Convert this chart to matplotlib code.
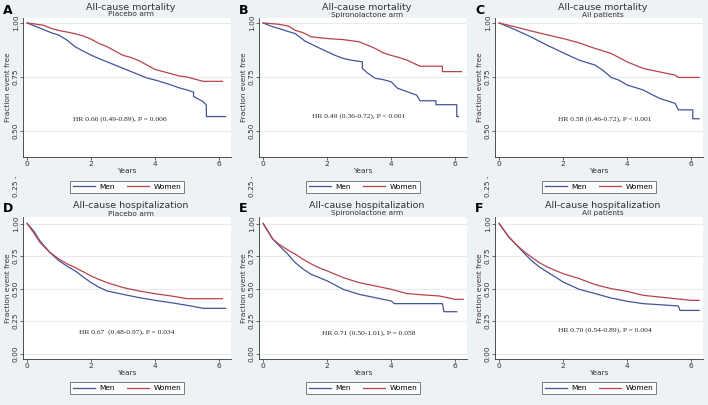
import matplotlib.pyplot as plt
from matplotlib.lines import Line2D

# ==============================
# Data
# ==============================

# A: all-cause mortality, placebo arm
a_men_t = [0, 0.25, 0.5, 0.75, 1, 1.25, 1.5, 1.75, 2, 2.25, 2.5, 2.75, 3, 3.25, 3.5, 3.75, 4, 4.25, 4.5, 4.75, 5, 5.2, 5.2, 5.5, 5.6, 5.6, 6.2]
a_men_s = [1.0, 0.985, 0.97, 0.955, 0.943, 0.92, 0.89, 0.87, 0.851, 0.835, 0.82, 0.805, 0.79, 0.775, 0.76, 0.745, 0.736, 0.725, 0.713, 0.70, 0.69, 0.68, 0.66, 0.636, 0.62, 0.567, 0.567]
a_wom_t = [0, 0.25, 0.5, 0.75, 1, 1.25, 1.5, 1.75, 2, 2.25, 2.5, 2.75, 3, 3.25, 3.5, 3.75, 4, 4.25, 4.5, 4.75, 5, 5.25, 5.5, 6.1]
a_wom_s = [1.0, 0.995, 0.99, 0.975, 0.965, 0.958, 0.95, 0.94, 0.925, 0.905, 0.89, 0.87, 0.85, 0.84, 0.825, 0.805, 0.785, 0.775, 0.765, 0.755, 0.75, 0.74, 0.73, 0.73]

# B: all-cause mortality, spironolactone arm
b_men_t = [0, 0.25, 0.5, 0.75, 1, 1.3, 1.6, 2, 2.25, 2.5, 2.75, 3.1, 3.1, 3.25, 3.5, 3.75, 4, 4.2, 4.5, 4.8, 4.9, 5.4, 5.4, 6.05, 6.05, 6.1]
b_men_s = [1.0, 0.985, 0.974, 0.962, 0.951, 0.917, 0.895, 0.867, 0.85, 0.836, 0.828, 0.82, 0.79, 0.77, 0.744, 0.738, 0.728, 0.698, 0.682, 0.666, 0.64, 0.64, 0.622, 0.622, 0.567, 0.567]
b_wom_t = [0, 0.5, 0.8, 1, 1.25, 1.5, 2, 2.5, 3, 3.25, 3.5, 3.75, 4, 4.25, 4.5, 4.9, 5.6, 5.6, 6.2]
b_wom_s = [1.0, 0.994, 0.985, 0.966, 0.955, 0.936, 0.928, 0.923, 0.913, 0.898, 0.882, 0.862, 0.85, 0.84, 0.828, 0.80, 0.80, 0.775, 0.775]

# C: all-cause mortality, all patients
c_men_t = [0, 0.5, 1, 1.5, 2, 2.5, 3, 3.25, 3.5, 3.75, 4, 4.5, 5, 5.5, 5.6, 6.05, 6.05, 6.25]
c_men_s = [1.0, 0.969, 0.935, 0.897, 0.862, 0.828, 0.805, 0.78, 0.748, 0.735, 0.713, 0.69, 0.652, 0.628, 0.598, 0.598, 0.557, 0.557]
c_wom_t = [0, 0.5, 1, 1.5, 2, 2.5, 3, 3.5, 4, 4.5, 5, 5.5, 5.6, 6.25]
c_wom_s = [1.0, 0.982, 0.963, 0.945, 0.928, 0.908, 0.882, 0.859, 0.82, 0.79, 0.774, 0.759, 0.748, 0.748]

# D: all-cause hospitalization, placebo arm
d_men_t = [0, 0.2, 0.4, 0.7, 1, 1.25, 1.5, 1.75, 2, 2.25, 2.5, 3, 3.5, 4, 4.5, 5, 5.5, 6.2]
d_men_s = [1.0, 0.944, 0.867, 0.78, 0.713, 0.672, 0.636, 0.59, 0.546, 0.51, 0.482, 0.456, 0.431, 0.41, 0.392, 0.372, 0.349, 0.349]
d_wom_t = [0, 0.2, 0.4, 0.7, 1, 1.25, 1.5, 1.75, 2, 2.25, 2.5, 3, 3.5, 4, 4.5, 5, 6.1]
d_wom_s = [1.0, 0.93, 0.855, 0.78, 0.726, 0.69, 0.662, 0.63, 0.597, 0.57, 0.546, 0.508, 0.482, 0.461, 0.444, 0.423, 0.423]

# E: all-cause hospitalization, spironolactone arm
e_men_t = [0, 0.3, 0.5, 0.75, 1, 1.25, 1.5, 1.75, 2, 2.5, 3, 3.5, 4, 4.1, 5.6, 5.65, 6.05]
e_men_s = [1.0, 0.88, 0.83, 0.77, 0.70, 0.65, 0.61, 0.585, 0.56, 0.495, 0.456, 0.431, 0.405, 0.385, 0.385, 0.323, 0.323]
e_wom_t = [0, 0.3, 0.5, 0.75, 1, 1.25, 1.5, 1.75, 2, 2.5, 3, 3.5, 4, 4.5, 5, 5.5, 6, 6.25]
e_wom_s = [1.0, 0.88, 0.84, 0.80, 0.765, 0.725, 0.69, 0.66, 0.636, 0.585, 0.546, 0.521, 0.495, 0.462, 0.452, 0.444, 0.418, 0.418]

# F: all-cause hospitalization, all patients
f_men_t = [0, 0.3, 0.5, 0.75, 1, 1.25, 1.5, 1.75, 2, 2.5, 3, 3.5, 4, 4.5, 5, 5.6, 5.65, 6.25]
f_men_s = [1.0, 0.897, 0.846, 0.78, 0.718, 0.668, 0.628, 0.59, 0.551, 0.495, 0.462, 0.428, 0.403, 0.385, 0.377, 0.367, 0.333, 0.333]
f_wom_t = [0, 0.3, 0.5, 0.75, 1, 1.25, 1.5, 1.75, 2, 2.5, 3, 3.5, 4, 4.5, 5, 5.5, 6, 6.25]
f_wom_s = [1.0, 0.897, 0.846, 0.79, 0.744, 0.70, 0.667, 0.64, 0.615, 0.577, 0.531, 0.50, 0.479, 0.449, 0.436, 0.423, 0.41, 0.41]

letters = ["A", "B", "C", "D", "E", "F"]
titles = ["All-cause mortality"] * 3 + ["All-cause hospitalization"] * 3
subtitles = ["Placebo arm", "Spironolactone arm", "All patients"] * 2
hr_texts = [
    "HR 0.66 (0.49-0.89), P = 0.006",
    "HR 0.49 (0.36-0.72), P < 0.001",
    "HR 0.58 (0.46-0.72), P < 0.001",
    "HR 0.67  (0.48-0.97), P = 0.034",
    "HR 0.71 (0.50-1.01), P = 0.058",
    "HR 0.70 (0.54-0.89), P = 0.004",
]
hr_pos = [(2.9, 0.555), (3.0, 0.567), (3.3, 0.557), (3.1, 0.17), (3.3, 0.16), (3.3, 0.18)]
curves = [
    (a_men_t, a_men_s, a_wom_t, a_wom_s),
    (b_men_t, b_men_s, b_wom_t, b_wom_s),
    (c_men_t, c_men_s, c_wom_t, c_wom_s),
    (d_men_t, d_men_s, d_wom_t, d_wom_s),
    (e_men_t, e_men_s, e_wom_t, e_wom_s),
    (f_men_t, f_men_s, f_wom_t, f_wom_s),
]

# ==============================
# Style
# ==============================

BG = "#edf2f5"
BLUE = "#44549a"
RED = "#b8434b"
TXT = "#333333"
W, H = 708, 405

fig = plt.figure(figsize=(7.08, 4.05), dpi=100, facecolor=BG)

col_left = [23, 259, 495]
col_width = 208
row_top = [18, 217]
row_bottom = [157, 359]

for i in range(6):
    r, c = divmod(i, 3)
    left = col_left[c] / W
    bottom = 1 - row_bottom[r] / H
    height = (row_bottom[r] - row_top[r]) / H
    ax = fig.add_axes([left, bottom, col_width / W, height])
    ax.set_facecolor("white")

    mt, ms, wt, ws = curves[i]
    ax.plot(mt, ms, color=BLUE, lw=0.9)
    ax.plot(wt, ws, color=RED, lw=0.9)

    ax.set_xlim(-0.13, 6.37)
    ax.set_xticks([0, 2, 4, 6])
    if r == 0:
        ax.set_ylim(0.38, 1.023)
        yt = [0.5, 0.75, 1.0]
    else:
        ax.set_ylim(-0.04, 1.05)
        yt = [0.0, 0.25, 0.5, 0.75, 1.0]
    ax.set_yticks(yt)
    ax.set_yticklabels([f"{v:.2f}" for v in yt], rotation=90, va="center")
    ax.yaxis.grid(True, color="#e6ecef", lw=0.8)
    ax.set_axisbelow(True)

    for s in ["top", "right"]:
        ax.spines[s].set_visible(False)
    for s in ["left", "bottom"]:
        ax.spines[s].set_color(TXT)
        ax.spines[s].set_linewidth(0.6)
    ax.tick_params(labelsize=5.3, length=2, width=0.5, pad=1, colors=TXT)

    ax.set_xlabel("Years", fontsize=5.3, labelpad=0.5, color=TXT)
    ax.set_ylabel("Fraction event free", fontsize=5.3, labelpad=1, color=TXT)

    ax.text(hr_pos[i][0], hr_pos[i][1], hr_texts[i], fontsize=5.4,
            family="Liberation Serif", ha="center", va="center", color="#222222")

    cx = (col_left[c] + col_width / 2 + 4) / W
    fig.text(cx, 1 - (row_top[r] - 11) / H, titles[i], fontsize=6.8,
             ha="center", va="center", color=TXT)
    fig.text(cx, 1 - (row_top[r] - 3.5) / H, subtitles[i], fontsize=5.3,
             ha="center", va="center", color=TXT)
    fig.text((col_left[c] - 20) / W, 1 - (row_top[r] - 8) / H, letters[i],
             fontsize=9, fontweight="bold", ha="left", va="center")

    handles = [Line2D([], [], color=BLUE, lw=0.9), Line2D([], [], color=RED, lw=0.9)]
    leg_y = 187 if r == 0 else 388
    leg = fig.legend(handles, ["Men", "Women"], loc="center",
                     bbox_to_anchor=((col_left[c] + 104) / W, 1 - leg_y / H),
                     ncol=2, fontsize=5.3, frameon=True, fancybox=False,
                     handlelength=3.0, columnspacing=1.6, borderpad=0.35,
                     handletextpad=0.6, borderaxespad=0)
    leg.get_frame().set_edgecolor("#444444")
    leg.get_frame().set_linewidth(0.6)

    # Stata leaves the 0.25 tick label stranded below the top-row plots
    if r == 0:
        fig.text((col_left[c] - 7) / W, 1 - 186 / H, "0.25 -", fontsize=5.3,
                 rotation=90, ha="center", va="center", color=TXT)

plt.savefig("out.png", dpi=100, facecolor=BG)
